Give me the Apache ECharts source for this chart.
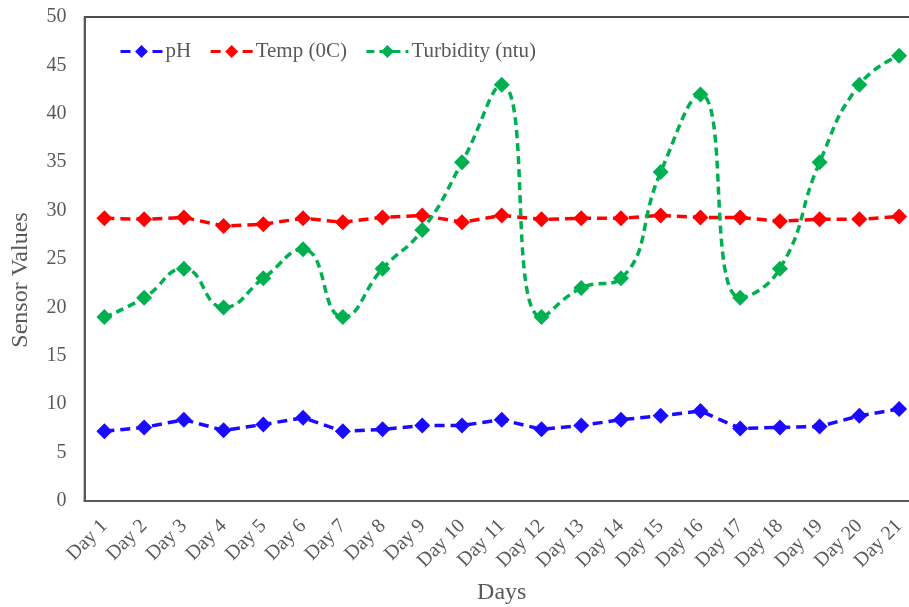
<!DOCTYPE html>
<html>
<head>
<meta charset="utf-8">
<script src="https://cdn.jsdelivr.net/npm/echarts@6/dist/echarts.min.js"></script>
<style>
  html, body { margin: 0; padding: 0; background: #fff; }
  #chart { width: 909px; height: 607px; }
</style>
</head>
<body>
<div id="chart"></div>
<script>
// Daily sensor readings
const days = ['Day 1','Day 2','Day 3','Day 4','Day 5','Day 6','Day 7','Day 8','Day 9','Day 10','Day 11',
              'Day 12','Day 13','Day 14','Day 15','Day 16','Day 17','Day 18','Day 19','Day 20','Day 21'];
const phValues = [7.2, 7.6, 8.4, 7.3, 7.9, 8.6, 7.2, 7.4, 7.8, 7.8, 8.4, 7.4, 7.8, 8.4, 8.8, 9.3, 7.5, 7.6, 7.7, 8.8, 9.5];
const tempValues = [29.2, 29.1, 29.3, 28.4, 28.6, 29.2, 28.8, 29.3, 29.5, 28.8, 29.5, 29.1, 29.2, 29.2, 29.5, 29.3, 29.3, 28.9, 29.1, 29.1, 29.4];
const turbidityValues = [19, 21, 24, 20, 23, 26, 19, 24, 28, 35, 43, 19, 22, 23, 34, 42, 21, 24, 35, 43, 46];
const yTicks = { min: 0, max: 50, step: 5 };

const serif = '"Liberation Serif", "DejaVu Serif", serif';
const textGray = '#595959';

function lineSeries(name, data, color, width, dash, smooth) {
  return {
    name: name,
    type: 'line',
    data: data,
    smooth: smooth,
    smoothConstraint: false,
    symbol: 'diamond',
    symbolSize: 16,
    itemStyle: { color: color },
    lineStyle: { color: color, width: width, type: dash },
    emphasis: { disabled: true }
  };
}

const chart = echarts.init(document.getElementById('chart'), null, { renderer: 'canvas' });
chart.setOption({
  animation: false,
  backgroundColor: '#fff',
  grid: {
    left: 84.5, right: -10, top: 17, bottom: 106,
    outerBoundsMode: 'none',
    containLabel: false,
    show: true, borderColor: '#111', borderWidth: 1.5
  },
  legend: {
    left: 114, top: 36,
    itemWidth: 42, itemHeight: 16, itemGap: 18,
    lineStyle: { width: 3 },
    textStyle: { fontFamily: serif, fontSize: 21, color: textGray, padding: [0, 0, 0, -2] },
    data: ['pH', 'Temp (0C)', 'Turbidity (ntu)']
  },
  xAxis: {
    type: 'category',
    data: days,
    boundaryGap: true,
    name: 'Days',
    nameLocation: 'middle',
    nameGap: 80,
    nameTextStyle: { fontFamily: serif, fontSize: 24, color: textGray },
    axisLine: { lineStyle: { color: '#595959', width: 2 } },
    axisTick: { show: false },
    axisLabel: { rotate: 45, margin: 22, fontFamily: serif, fontSize: 20, color: textGray, interval: 0 },
    splitLine: { show: false }
  },
  yAxis: {
    type: 'value',
    min: yTicks.min, max: yTicks.max, interval: yTicks.step,
    name: 'Sensor Values',
    nameLocation: 'middle',
    nameGap: 52,
    nameTextStyle: { fontFamily: serif, fontSize: 24, color: textGray, padding: [0, 42, 0, 0] },
    axisLine: { show: true, lineStyle: { color: '#595959', width: 2 } },
    axisTick: { show: false },
    axisLabel: { margin: 18, fontFamily: serif, fontSize: 20, color: textGray },
    splitLine: { show: false }
  },
  series: [
    lineSeries('pH', phValues, '#1a0aff', 3.5, [10, 6], false),
    lineSeries('Temp (0C)', tempValues, '#ff0000', 3.5, [10, 6], false),
    lineSeries('Turbidity (ntu)', turbidityValues, '#00b050', 3.5, [8, 5], 0.5)
  ]
});
</script>
</body>
</html>
